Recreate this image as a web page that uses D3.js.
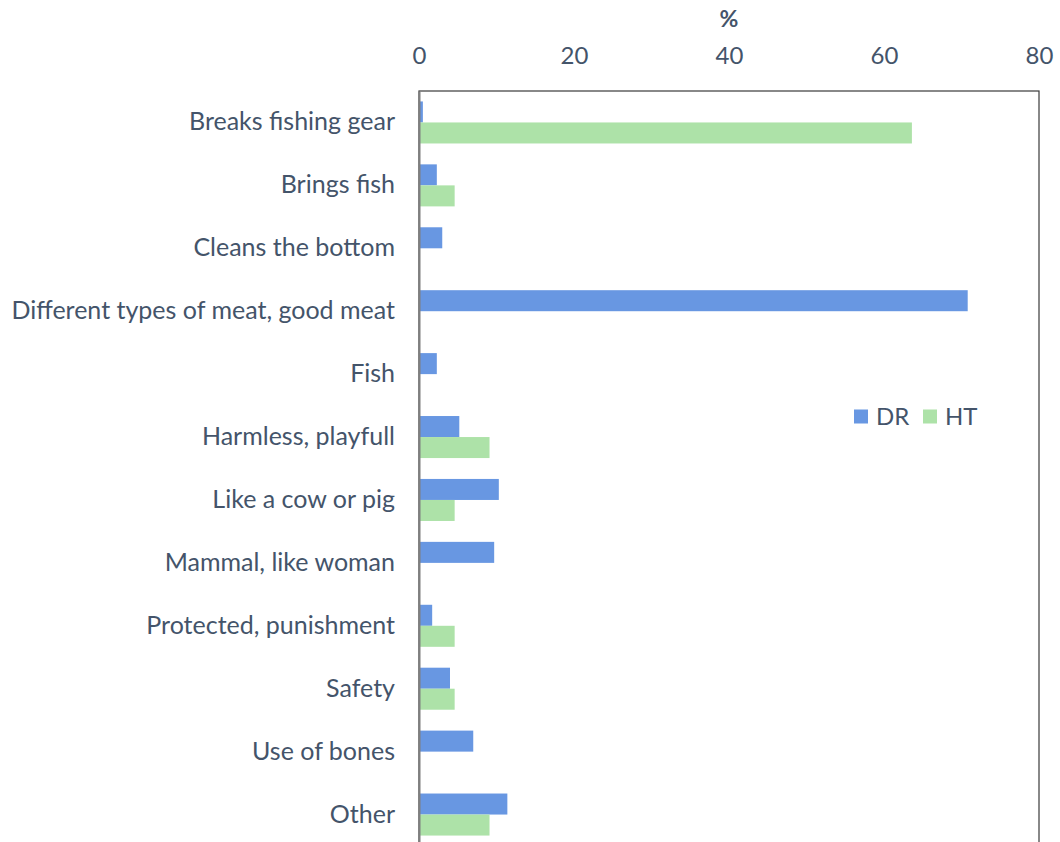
<!DOCTYPE html>
<html>
<head>
<meta charset="utf-8">
<script src="https://cdn.jsdelivr.net/npm/d3@7"></script>
<style>
  html, body { margin: 0; padding: 0; background: #fff; }
  svg text { font-family: Lato, "Open Sans", sans-serif; fill: #44546A; }
</style>
</head>
<body>
<svg id="chart" width="1060" height="842"></svg>
<script>
// Survey answers, percent of respondents per site
const categories = [
  "Breaks fishing gear",
  "Brings fish",
  "Cleans the bottom",
  "Different types of meat, good meat",
  "Fish",
  "Harmless, playfull",
  "Like a cow or pig",
  "Mammal, like woman",
  "Protected, punishment",
  "Safety",
  "Use of bones",
  "Other"
];
const seriesNames = ["DR", "HT"];
const drValues = [0.5, 2.3, 3.0, 70.8, 2.3, 5.2, 10.3, 9.7, 1.7, 4.0, 7.0, 11.4];
const htValues = [63.6, 4.6, 0, 0, 0, 9.1, 4.6, 0, 4.6, 4.6, 0, 9.1];
const xTicks = [0, 20, 40, 60, 80];
const colors = { DR: "#6897E2", HT: "#ADE2A8" };

const rows = categories.map((c, i) => ({ cat: c, DR: drValues[i], HT: htValues[i] }));

const svg = d3.select("#chart");
const plotLeft = 419, plotRight = 1039, plotTop = 91, plotBottom = 846;

const x = d3.scaleLinear().domain([0, 80]).range([plotLeft, plotRight]);
const y = d3.scaleBand().domain(categories).range([plotTop, plotBottom])
  .paddingInner(0.332).paddingOuter(0.166);
const ySub = d3.scaleBand().domain(seriesNames).range([0, y.bandwidth()]);

// plot frame
svg.append("rect")
  .attr("x", plotLeft).attr("y", plotTop)
  .attr("width", plotRight - plotLeft).attr("height", plotBottom - plotTop)
  .attr("fill", "none").attr("stroke", "#3a3a3a").attr("stroke-width", 1.2);

// bars
const groups = svg.append("g").selectAll("g").data(rows).join("g")
  .attr("transform", d => `translate(0,${y(d.cat)})`);
groups.selectAll("rect")
  .data(d => seriesNames.map(s => ({ key: s, value: d[s] })))
  .join("rect")
  .attr("x", x(0))
  .attr("y", d => ySub(d.key))
  .attr("width", d => x(d.value) - x(0))
  .attr("height", ySub.bandwidth())
  .attr("fill", d => colors[d.key]);

// category axis
const yAxis = svg.append("g")
  .attr("transform", `translate(${plotLeft},0)`)
  .call(d3.axisLeft(y).tickSize(0).tickPadding(24));
yAxis.select(".domain").attr("stroke", "#7f7f7f").attr("stroke-width", 2);
yAxis.selectAll("text").attr("font-size", 25).attr("fill", "#44546A")
  .style("font-family", "Lato, 'Open Sans', sans-serif");

// value axis on top
const xAxis = svg.append("g")
  .attr("transform", `translate(0,${plotTop})`)
  .call(d3.axisTop(x).tickValues(xTicks).tickSize(0).tickPadding(27));
xAxis.select(".domain").remove();
xAxis.selectAll("text").attr("font-size", 24).attr("fill", "#44546A")
  .style("font-family", "Lato, 'Open Sans', sans-serif");

svg.append("text")
  .attr("x", x(40)).attr("y", 27)
  .attr("text-anchor", "middle")
  .attr("font-size", 23)
  .attr("font-weight", "bold")
  .text("%");

// legend
const legend = svg.append("g").attr("transform", "translate(854,416.5)");
const li = legend.selectAll("g").data(seriesNames).join("g")
  .attr("transform", (d, i) => `translate(${i * 69},0)`);
li.append("rect").attr("x", 0).attr("y", -7).attr("width", 14).attr("height", 14)
  .attr("fill", d => colors[d]);
li.append("text").attr("x", 22).attr("y", 8.5).attr("font-size", 24).text(d => d);
</script>
</body>
</html>
